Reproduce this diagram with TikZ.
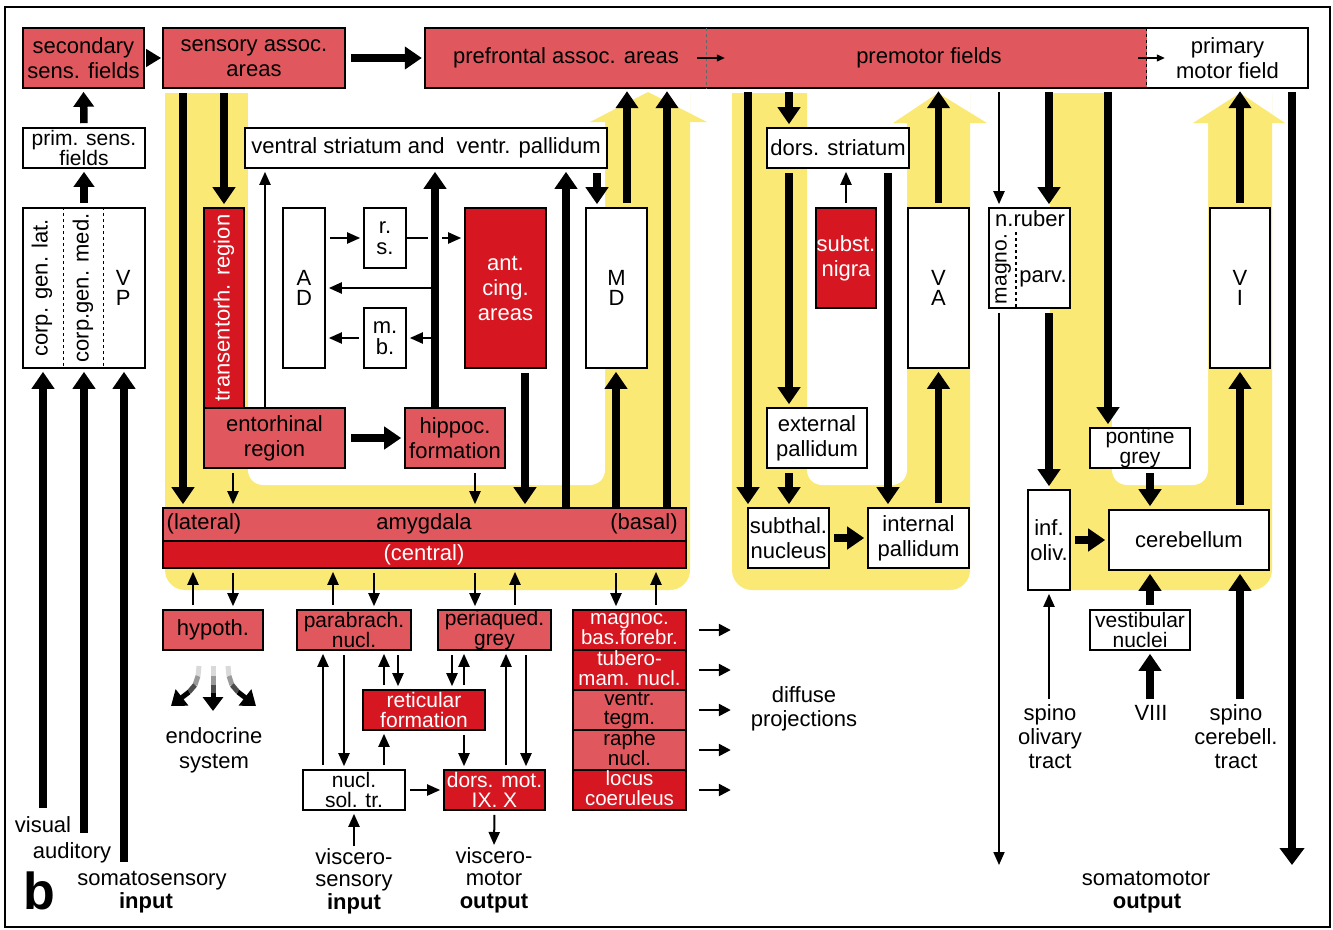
\documentclass[tikz,border=0pt]{standalone}
\usepackage{fontspec}
\setmainfont{Liberation Sans}
\usetikzlibrary{arrows.meta}
\definecolor{sal}{RGB}{224,88,94}
\definecolor{dred}{RGB}{214,22,32}
\definecolor{yel}{RGB}{251,233,118}
\newcommand\Bx[7]{\node[#6, minimum width={(#4)-(#2)}, minimum height={(#5)-(#3)}] (#1) at ({((#2)+(#4))/2},{((#3)+(#5))/2}) {#7};}
\newcommand\vp{\vphantom{Ag}}
\tikzset{
  bx/.style={draw, line width=1.6pt, inner sep=0pt, align=center},
  sal/.style={bx, fill=sal},
  dred/.style={bx, fill=dred, text=white},
  wht/.style={bx, fill=white},
  bxo/.style={draw, line width=1.6pt, inner sep=0pt},
  salnd/.style={fill=sal, inner sep=0pt},
  whtnd/.style={fill=white, inner sep=0pt, align=center},
  tight/.style={font=\fontsize{21}{20}\selectfont},
  magt/.style={font=\fontsize{20.5}{18.5}\selectfont},
  stack/.style={font=\fontsize{22}{20.5}\selectfont},
  lbl/.style={inner sep=0pt, text height=16pt, text depth=5pt},
  thk/.style={line width=7.5pt, -{Triangle[width=22pt,length=17pt]}, shorten <=4pt, shorten >=3pt},
  thn/.style={line width=2pt, -{Triangle[width=11pt,length=13pt]}, shorten <=4pt, shorten >=3pt},
  thin line/.style={line width=2pt},
}
\begin{document}
\begin{tikzpicture}[x=1pt,y=-1pt, font=\fontsize{22}{25}\selectfont]
\useasboundingbox (0,0) rectangle (1333,929);
% ---------- yellow backgrounds ----------
\begin{scope}
  \clip (0,93) rectangle (1333,929);
  \fill[yel, rounded corners=20pt] (165,40) rectangle (690,590);
  \fill[white, rounded corners=15pt] (248,40) rectangle (605,485);
  \fill[yel, rounded corners=20pt] (732,40) rectangle (970,590);
  \fill[white, rounded corners=15pt] (807,40) rectangle (907,485);
  \fill[yel, rounded corners=20pt] (1050,40) rectangle (1272,590);
  \fill[white, rounded corners=15pt] (1112,40) rectangle (1208,485);
\end{scope}
\fill[white] (605,93) rectangle (690,122);
\fill[yel] (590,122) -- (648,92) -- (707,122) -- cycle;
\fill[white] (907,93) rectangle (970,123);
\fill[yel] (893,123) -- (938,93) -- (987,123) -- cycle;
\fill[white] (1208,93) rectangle (1272,123);
\fill[yel] (1193,123) -- (1240,93) -- (1285,123) -- cycle;
% outer frame
\draw[line width=2pt] (5,7) rectangle (1330,927);
% helper x coordinates
\foreach \v in {43,84,124,183,193,224,233,265,323,333,344,374,384,398,428,435,442,452,464,475,506,515,525,526,566,597,616,627,656,667,748,789,846,888,999,1049,1108,1150,1240,1292}
  \coordinate (x\v) at (\v,0);
% ---------- top row ----------
\Bx{sec}{23}{28}{144}{88}{sal}{secondary\\sens. fields}
\Bx{sens}{163}{28}{345}{88}{sal}{sensory assoc.\\areas}
\Bx{pref}{425}{28}{1147}{88}{salnd}{}
\Bx{pmot}{1147}{28}{1308}{88}{whtnd}{primary\\motor field}
\draw[line width=1.6pt] (pref.north west) rectangle (pmot.south east);
\draw[dashed, line width=1.2pt] (pmot.north west) -- (pmot.south west);
\draw[dashed, line width=1pt, black!60] ([xshift=282pt]pref.north west) -- ([xshift=282pt]pref.south west);
\node[lbl] (tpref) at (566,58) {prefrontal assoc. areas};
\node[lbl] (tprem) at (929,58) {premotor fields};
\draw[line width=1.2pt, -{Triangle[width=7pt,length=8pt]}] ([xshift=272pt]pref.west) -- ([xshift=300pt]pref.west);
\draw[line width=1.2pt, -{Triangle[width=7pt,length=8pt]}] ([xshift=-9pt]pmot.west) -- ([xshift=18pt]pmot.west);
% ---------- left column ----------
\Bx{prim}{23}{128}{145}{168}{wht,tight}{prim. sens.\\fields}
\Bx{thal}{23}{208}{145}{368}{wht}{}
\draw[dashed, line width=1.2pt] ([xshift=41pt]thal.north west) -- ([xshift=41pt]thal.south west);
\draw[dashed, line width=1.2pt] ([xshift=81pt]thal.north west) -- ([xshift=81pt]thal.south west);
\node[lbl, rotate=90] (tcgl) at ([xshift=20pt]thal.west) {corp. gen. lat.};
\node[lbl, rotate=90] (tcgm) at ([xshift=61pt]thal.west) {corp.gen. med.};
\node[inner sep=0pt, align=center, stack] (tvp) at ([xshift=101pt]thal.west) {V\\P};
% ---------- limbic part ----------
\Bx{vstr}{245}{128}{607}{168}{wht}{ventral striatum and\ \ ventr. pallidum}
\Bx{trans}{204}{208}{244}{408}{dred}{}
\node[lbl, rotate=90, text=white] (ttrans) at (trans) {transentorh. region};
\Bx{entorh}{204}{408}{345}{468}{sal}{entorhinal\\region}
\Bx{hippoc}{405}{408}{505}{468}{sal}{hippoc.\\formation}
\Bx{AD}{283}{208}{325}{368}{wht,stack}{A\\D}
\Bx{rs}{364}{208}{406}{268}{wht,stack}{r.\\s.}
\Bx{mb}{364}{308}{406}{368}{wht,stack}{m.\\b.}
\Bx{antcing}{465}{208}{546}{368}{dred}{ant.\\cing.\\areas}
\Bx{MD}{586}{208}{647}{368}{wht,stack}{M\\D}
% amygdala
\fill[sal] (163,508) rectangle (686,541);
\fill[dred] (163,541) rectangle (686,568);
\draw[dashed, line width=1.2pt] (163,541) -- (686,541);
\Bx{amyg}{163}{508}{686}{568}{bxo}{}
\node[lbl] (tlat) at (204,524) {(lateral)};
\node[lbl] (tamy) at (424,524) {amygdala};
\node[lbl] (tbas) at (644,524) {(basal)};
\node[lbl, text=white] (tcen) at (424,555) {(central)};
% lower boxes
\Bx{hyp}{163}{610}{263}{650}{sal}{hypoth.}
\Bx{parab}{297}{610}{411}{650}{sal,tight}{parabrach.\\nucl.}
\Bx{periaq}{438}{610}{551}{650}{sal,tight}{periaqued.\\grey}
\Bx{mag1}{573}{610}{686}{650}{dred,magt}{\vp magnoc.\\\vp bas.forebr.}
\Bx{mag2}{573}{650}{686}{690}{dred,magt}{\vp tubero-\\\vp mam. nucl.}
\Bx{mag3}{573}{690}{686}{730}{sal,magt}{\vp ventr.\\\vp tegm.}
\Bx{mag4}{573}{730}{686}{770}{sal,magt}{\vp raphe\\\vp nucl.}
\Bx{mag5}{573}{770}{686}{810}{dred,magt}{\vp locus\\\vp coeruleus}
\Bx{ret}{363}{690}{485}{730}{dred,tight}{reticular\\formation}
\Bx{nst}{303}{770}{405}{810}{wht,tight}{nucl.\\sol. tr.}
\Bx{dmot}{444}{770}{545}{810}{dred,tight}{dors. mot.\\IX. X}
% ---------- basal ganglia ----------
\Bx{dstr}{767}{128}{909}{168}{wht}{dors. striatum}
\Bx{snig}{816}{208}{876}{308}{dred}{subst.\\nigra}
\Bx{VA}{908}{208}{969}{368}{wht,stack}{V\\A}
\Bx{extpal}{767}{408}{867}{468}{wht}{external\\pallidum}
\Bx{subthal}{748}{508}{829}{568}{wht}{subthal.\\nucleus}
\Bx{intpal}{868}{508}{969}{568}{wht}{internal\\pallidum}
% ---------- motor part ----------
\Bx{nrub}{989}{208}{1070}{308}{wht}{}
\draw[dashed, line width=1.2pt] (1016,232) -- (1016,308);
\node[lbl] (tnrub) at (1030,221) {n.ruber};
\node[lbl, rotate=90, font=\fontsize{21}{21}\selectfont] (tmagno) at (1001,269) {magno.};
\node[lbl] (tparv) at (1043,277) {parv.};
\Bx{infol}{1028}{490}{1070}{590}{wht}{inf.\\oliv.}
\Bx{pont}{1090}{428}{1190}{468}{wht,tight}{pontine\\grey}
\Bx{cereb}{1109}{510}{1269}{570}{wht}{cerebellum}
\Bx{VI}{1210}{208}{1270}{368}{wht,stack}{V\\I}
\Bx{vest}{1090}{610}{1190}{650}{wht,tight}{vestibular\\nuclei}
% ---------- free coordinates ----------
\coordinate (cvis) at (43,808);
\coordinate (caud) at (84,833);
\coordinate (csom) at (124,862);
\coordinate (cvsin) at (354,846);
\coordinate (cvmo) at (494,848);
\coordinate (crub) at (999,868);
\coordinate (cpm) at (1292,868);
\coordinate (cviii) at (1150,699);
\coordinate (cso) at (1049,699);
\coordinate (csc) at (1240,699);
% ---------- connectors: left ----------
\draw[thk, shorten <=1pt, shorten >=1pt, -{Triangle[width=17pt,length=15pt]}] (sec.east) -- (sens.west);
\draw[thk, shorten <=5pt] (sens.east) -- (pref.west);
\draw[thk, -{Triangle[width=20pt,length=15pt]}] (prim.north) -- (sec.south);
\draw[thk, -{Triangle[width=20pt,length=15pt]}] (thal.north) -- (prim.south);
\draw[thk, shorten <=0pt] (cvis) -- (thal.south -| x43);
\draw[thk, shorten <=0pt] (caud) -- (thal.south -| x84);
\draw[thk, shorten <=0pt] (csom) -- (thal.south -| x124);
% limbic
\draw[thk] (sens.south -| x183) -- (amyg.north -| x183);
\draw[thk] (sens.south -| x224) -- (trans.north);
\draw[thk, shorten <=5pt] (entorh.east) -- (hippoc.west);
\draw[thn] (entorh.south -| x233) -- (amyg.north -| x233);
\draw[thn] (hippoc.south -| x475) -- (amyg.north -| x475);
\draw[thn, shorten <=0pt] (entorh.north -| x265) -- (vstr.south -| x265);
\draw[thk, shorten <=0pt] (hippoc.north -| x435) -- (vstr.south -| x435);
\draw[thn] (AD.east |- rs.west) -- (rs.west);
\draw[thin line] (rs.east) -- (rs.east -| x428);
\draw[thn, shorten <=0pt] (x442 |- rs.east) -- (antcing.west |- rs.east);
\draw[thn, shorten <=0pt, line width=2.4pt] (x435 |- AD.east) -- (AD.east);
\draw[thn, shorten <=0pt] (x435 |- mb.east) -- (mb.east);
\draw[thn] (mb.west) -- (AD.east |- mb.west);
\draw[thk] (antcing.south -| x525) -- (amyg.north -| x525);
\draw[thk, shorten <=0pt] (amyg.north -| x566) -- (vstr.south -| x566);
\draw[thk] (vstr.south -| x597) -- (MD.north -| x597);
\draw[thk, shorten <=0pt] (amyg.north -| x616) -- (MD.south -| x616);
\draw[thk] (MD.north -| x627) -- (pref.south -| x627);
\draw[thk, shorten <=0pt] (amyg.north -| x667) -- (pref.south -| x667);
% amygdala to lower boxes
\draw[thn] (hyp.north -| x193) -- (amyg.south -| x193);
\draw[thn] (amyg.south -| x233) -- (hyp.north -| x233);
\draw[thn] (parab.north -| x333) -- (amyg.south -| x333);
\draw[thn] (amyg.south -| x374) -- (parab.north -| x374);
\draw[thn] (amyg.south -| x475) -- (periaq.north -| x475);
\draw[thn] (periaq.north -| x515) -- (amyg.south -| x515);
\draw[thn] (amyg.south -| x616) -- (mag1.north -| x616);
\draw[thn] (mag1.north -| x656) -- (amyg.south -| x656);
% brainstem network
\draw[thn] (nst.north -| x323) -- (parab.south -| x323);
\draw[thn] (parab.south -| x344) -- (nst.north -| x344);
\draw[thn] (ret.north -| x384) -- (parab.south -| x384);
\draw[thn] (parab.south -| x398) -- (ret.north -| x398);
\draw[thn] (nst.north -| x384) -- (ret.south -| x384);
\draw[thn] (periaq.south -| x452) -- (ret.north -| x452);
\draw[thn] (ret.north -| x464) -- (periaq.south -| x464);
\draw[thn] (ret.south -| x464) -- (dmot.north -| x464);
\draw[thn] (dmot.north -| x506) -- (periaq.south -| x506);
\draw[thn] (periaq.south -| x526) -- (dmot.north -| x526);
\draw[thn] (nst.east) -- (dmot.west);
\draw[thn] (dmot.south) -- (cvmo);
\draw[thn, shorten <=0pt] (cvsin) -- (nst.south);
% diffuse projections
\foreach \m in {mag1,mag2,mag3,mag4,mag5}
  \draw[line width=2.4pt, -{Triangle[width=12pt,length=12pt]}] ([xshift=12pt]\m.east) -- ([xshift=44pt]\m.east);
% endocrine arrows
\draw[line width=5pt, black!15] (199,666) -- (198,676);
\draw[line width=5pt, black!40] (198,676) -- (195,685);
\draw[line width=5pt, black!70] (195,685) -- (189,692);
\draw[line width=5pt, -{Triangle[width=20pt,length=14pt]}] (189,692) -- (171,706);
\draw[line width=5pt, black!15] (213,666) -- (213,676);
\draw[line width=5pt, black!40] (213,676) -- (213,685);
\draw[line width=5pt, black!70] (213,685) -- (213,693);
\draw[line width=5pt, -{Triangle[width=20pt,length=14pt]}] (213,693) -- (213,711);
\draw[line width=5pt, black!15] (228,666) -- (229,676);
\draw[line width=5pt, black!40] (229,676) -- (232,685);
\draw[line width=5pt, black!70] (232,685) -- (238,692);
\draw[line width=5pt, -{Triangle[width=20pt,length=14pt]}] (238,692) -- (256,706);
% ---------- connectors: basal ganglia ----------
\draw[thk] (pref.south -| x748) -- (subthal.north -| x748);
\draw[thk] (pref.south -| x789) -- (dstr.north -| x789);
\draw[thk] (dstr.south -| x789) -- (extpal.north -| x789);
\draw[thk] (dstr.south -| x888) -- (intpal.north -| x888);
\draw[thn] (snig.north) -- (dstr.south -| snig.north);
\draw[thk] (VA.north) -- (pref.south -| VA.north);
\draw[thk] (extpal.south -| x789) -- (subthal.north -| x789);
\draw[thk] (subthal.east) -- (intpal.west);
\draw[thk] (intpal.north -| VA.south) -- (VA.south);
% ---------- connectors: motor ----------
\draw[thn] (pref.south -| x999) -- (nrub.north -| x999);
\draw[thn, line width=1.8pt] (nrub.south -| x999) -- (crub);
\draw[thk] (pref.south -| x1049) -- (nrub.north -| x1049);
\draw[thk] (nrub.south -| x1049) -- (infol.north);
\draw[thk] (infol.east) -- (cereb.west |- infol.east);
\draw[thk] (pref.south -| x1108) -- (pont.north -| x1108);
\draw[thk] (pont.south -| x1150) -- (cereb.north -| x1150);
\draw[thk] (VI.north) -- (pmot.south -| VI.north);
\draw[thk] (cereb.north -| x1240) -- (VI.south);
\draw[thk, -{Triangle[width=24pt,length=17pt]}] (pmot.south -| x1292) -- (cpm);
\draw[thk] (vest.north -| x1150) -- (cereb.south -| x1150);
\draw[thk, shorten <=0pt] (cviii) -- (vest.south -| x1150);
\draw[thn, shorten <=0pt] (cso) -- (infol.south);
\draw[thk, shorten <=0pt] (csc) -- (cereb.south -| x1240);
% ---------- labels ----------
\node[lbl] (lvis) at (43,827) {visual};
\node[lbl] (laud) at (72,853) {auditory};
\node[lbl] (lsom) at (152,880) {somatosensory};
\node[lbl, font=\fontsize{22}{25}\selectfont\bfseries] (linp) at (146,903) {input};
\node[inner sep=0pt, font=\fontsize{52}{52}\selectfont\bfseries] (lb) at (39,891) {b};
\node[lbl] (len1) at (214,738) {endocrine};
\node[lbl] (len2) at (214,763) {system};
\node[lbl] (lvs1) at (354,859) {viscero-};
\node[lbl] (lvs2) at (354,881) {sensory};
\node[lbl, font=\fontsize{22}{25}\selectfont\bfseries] (lvs3) at (354,904) {input};
\node[lbl] (lvm1) at (494,858) {viscero-};
\node[lbl] (lvm2) at (494,880) {motor};
\node[lbl, font=\fontsize{22}{25}\selectfont\bfseries] (lvm3) at (494,903) {output};
\node[lbl] (ldf1) at (804,697) {diffuse};
\node[lbl] (ldf2) at (804,721) {projections};
\node[lbl] (lso1) at (1050,715) {spino};
\node[lbl] (lso2) at (1050,739) {olivary};
\node[lbl] (lso3) at (1050,763) {tract};
\node[lbl] (lviii) at (1151,715) {VIII};
\node[lbl] (lsc1) at (1236,715) {spino};
\node[lbl] (lsc2) at (1236,739) {cerebell.};
\node[lbl] (lsc3) at (1236,763) {tract};
\node[lbl] (lsm1) at (1146,880) {somatomotor};
\node[lbl, font=\fontsize{22}{25}\selectfont\bfseries] (lsm2) at (1147,903) {output};
\end{tikzpicture}
\end{document}
